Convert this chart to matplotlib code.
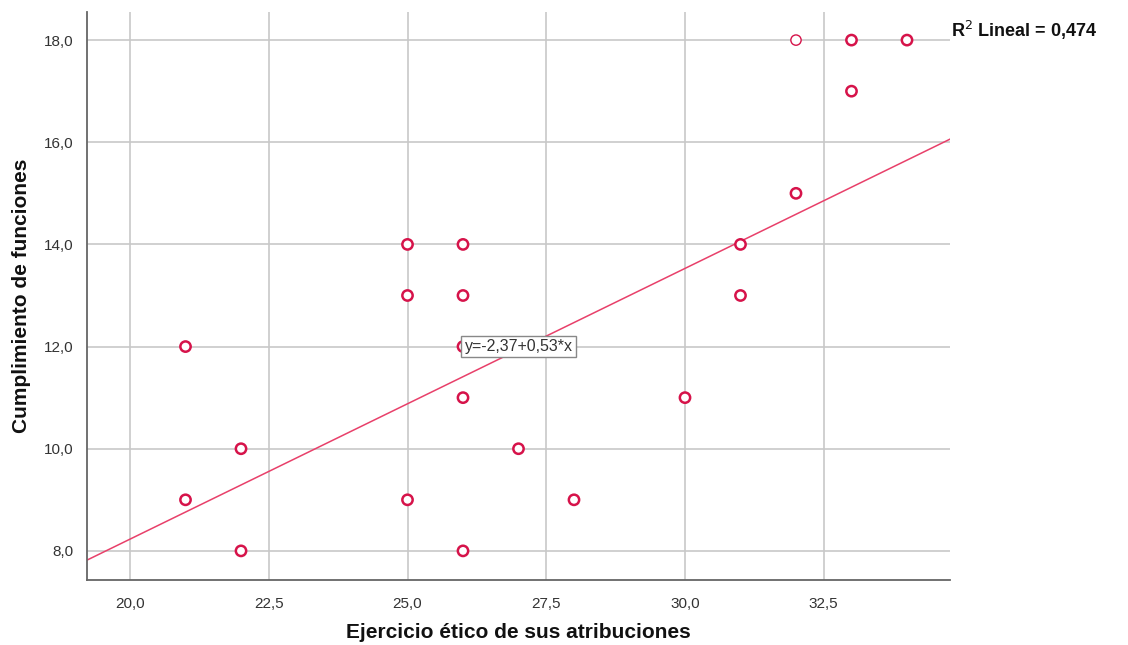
import numpy as np
import matplotlib.pyplot as plt

plt.rcParams['font.family'] = ['Liberation Sans', 'DejaVu Sans']

# data (count 2 = drawn with a thicker ring)
x_vals = [21, 21, 22, 22, 25, 25, 25, 26, 26, 26, 26, 26, 27, 28, 30, 31, 31, 32, 32, 33, 33, 34]
y_vals = [12, 9, 10, 8, 14, 13, 9, 14, 13, 12, 11, 8, 10, 9, 11, 14, 13, 18, 15, 18, 17, 18]
counts = [2, 2, 2, 2, 2, 2, 2, 2, 2, 2, 2, 2, 2, 2, 2, 2, 2, 1, 2, 2, 2, 2]
intercept = -2.37
slope = 0.53
r2 = 0.474

xticks = [20.0, 22.5, 25.0, 27.5, 30.0, 32.5]
yticks = [8.0, 10.0, 12.0, 14.0, 16.0, 18.0]

def fmt(v, d=1):
    return f"{v:.{d}f}".replace('.', ',')

fig = plt.figure(figsize=(11.28, 6.45), dpi=100)
ax = fig.add_axes([87/1128, 1 - 580/645, (950-87)/1128, (580-12)/645])

xmin, xmax = 19.225, 34.775
ymin, ymax = 7.43, 18.55
ax.set_xlim(xmin, xmax)
ax.set_ylim(ymin, ymax)

for xt in xticks:
    ax.axvline(xt, color='#c8c8c8', lw=1.2, zorder=0)
for yt in yticks:
    ax.axhline(yt, color='#c8c8c8', lw=1.2, zorder=0)

# fit line
xl = np.array([xmin, xmax])
ax.plot(xl, intercept + slope * xl, color='#e8406a', lw=1.1, zorder=2)

lw = [1.0 if c == 1 else 1.8 for c in counts]
ax.scatter(x_vals, y_vals, s=55, facecolors='white', edgecolors='#d6134a',
           linewidths=lw, zorder=3)

eq = "y=" + fmt(intercept, 2) + "+" + fmt(slope, 2) + "*x"
ax.text(26.03, 12.0, eq, ha='left', va='center', fontsize=11.5, color='#333333', zorder=4,
        bbox=dict(boxstyle='square,pad=0.2', fc='white', ec='#888888', lw=1))

ax.set_xticks(xticks)
ax.set_xticklabels([fmt(v) for v in xticks])
ax.set_yticks(yticks)
ax.set_yticklabels([fmt(v) for v in yticks])
ax.tick_params(length=0, labelsize=11, labelcolor='#333333')
ax.tick_params(axis='x', pad=12)
ax.tick_params(axis='y', pad=10)

for s in ['top', 'right']:
    ax.spines[s].set_visible(False)
for s in ['left', 'bottom']:
    ax.spines[s].set_color('#666666')
    ax.spines[s].set_linewidth(1.3)

fig.text(518/1128, 1 - 633/645, "Ejercicio ético de sus atribuciones", fontsize=15,
         fontweight='bold', ha='center', va='center', color='#111111')
fig.text(22/1128, 1 - 296/645, "Cumplimiento de funciones", fontsize=15, rotation=90,
         fontweight='bold', ha='center', va='center', color='#111111')

fig.text(951/1128, 1 - 30/645, "R$^2$ Lineal = " + fmt(r2, 3),
         fontsize=13, fontweight='bold', ha='left', va='center', color='#111111')

fig.savefig('out.png', dpi=100)
